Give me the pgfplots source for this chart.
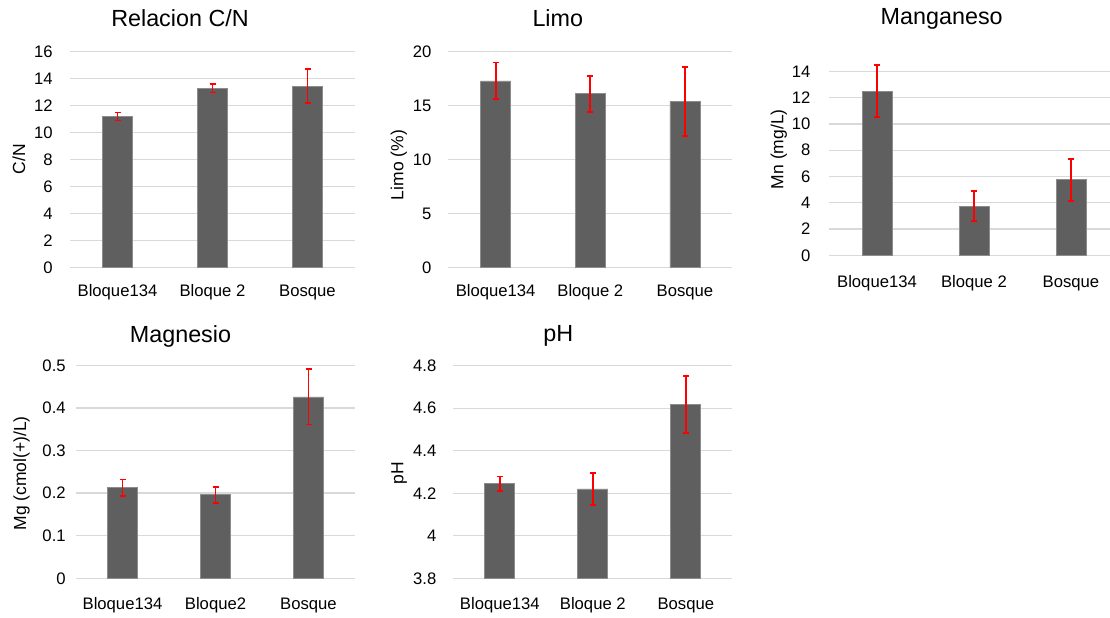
\documentclass[border=0pt]{standalone}
\usepackage{fontspec}
\setmainfont{Liberation Sans}
\usepackage{pgfplots}
\pgfplotsset{compat=1.18}
\definecolor{gridc}{HTML}{D9D9D9}
\definecolor{barc}{HTML}{5F5F5F}
\definecolor{bare}{HTML}{8C8C8C}
\pgfplotsset{
 panel/.style={
  scale only axis, ybar, bar width=18pt,
  xmin=-0.5, xmax=2.5, xtick={0,1,2},
  axis line style={draw=none}, tick style={draw=none},
  ymajorgrids, grid style={draw=gridc, line width=0.8pt},
  /pgf/number format/assume math mode=true,
  tick label style={font=\fontsize{10}{12}\selectfont, text=black},
  xticklabel style={anchor=base, inner sep=0pt},
  yticklabel style={anchor=east, inner sep=0pt},
  clip=false,
 },
 ebar/.style={fill=barc, draw=bare, line width=0.4pt,
  error bars/.cd, y dir=both, y explicit,
  error bar style={draw=red, color=red, line width=1.1pt},
  error mark options={rotate=90, mark size=1.8pt, draw=red, color=red, line width=1.1pt}},
}
\begin{document}
\begin{tikzpicture}
\useasboundingbox (0,0) rectangle (666pt,-370.2pt);

% Relacion C/N
\begin{axis}[panel, at={(42pt,-160.62pt)}, anchor=south west,
  width=171pt, height=129.6pt, ymin=0, ymax=16, ytick={0,2,...,16},
  xticklabels={Bloque134,Bloque 2,Bosque},
  xticklabel style={yshift=-12.9pt}, yticklabel style={xshift=-10.2pt}]
\addplot[ebar] table[x=x, y=y, y error=e] {
x y e
0 11.2 0.3
1 13.28 0.3
2 13.45 1.25
};
\end{axis}

% Limo
\begin{axis}[panel, at={(268.98pt,-160.62pt)}, anchor=south west,
  width=170.4pt, height=129.6pt, ymin=0, ymax=20, ytick={0,5,...,20},
  xticklabels={Bloque134,Bloque 2,Bosque},
  xticklabel style={yshift=-12.9pt}, yticklabel style={xshift=-10pt}]
\addplot[ebar] table[x=x, y=y, y error=e] {
x y e
0 17.3 1.7
1 16.1 1.65
2 15.4 3.2
};
\end{axis}

% Manganeso
\begin{axis}[panel, at={(497.1pt,-153.18pt)}, anchor=south west,
  width=174.6pt, height=110.4pt, ymin=0, ymax=14, ytick={0,2,...,14},
  xticklabels={Bloque134,Bloque 2,Bosque},
  xticklabel style={yshift=-14.9pt}, yticklabel style={xshift=-10.6pt}]
\addplot[ebar] table[x=x, y=y, y error=e] {
x y e
0 12.5 1.95
1 3.75 1.17
2 5.75 1.6
};
\end{axis}

% Magnesio
\begin{axis}[panel, at={(45.6pt,-346.98pt)}, anchor=south west,
  width=167.4pt, height=127.8pt, ymin=0, ymax=0.5, ytick={0,0.1,0.2,0.3,0.4,0.5},
  xticklabels={Bloque134,Bloque2,Bosque},
  xticklabel style={yshift=-14.5pt}, yticklabel style={xshift=-6pt}]
\addplot[ebar] table[x=x, y=y, y error=e] {
x y e
0 0.213 0.019
1 0.196 0.019
2 0.426 0.065
};
\end{axis}

% pH
\begin{axis}[panel, clip=true, at={(271.98pt,-346.98pt)}, anchor=south west,
  width=167.4pt, height=127.6pt, ymin=3.8, ymax=4.8, ytick={3.8,4,4.2,4.4,4.6,4.8},
  xticklabels={Bloque134,Bloque 2,Bosque},
  xticklabel style={yshift=-14.5pt}, yticklabel style={xshift=-10pt}]
\addplot[ebar] table[x=x, y=y, y error=e] {
x y e
0 4.245 0.034
1 4.22 0.075
2 4.617 0.133
};
\end{axis}

% titles
\begin{scope}[every node/.style={font=\fontsize{14}{16}\selectfont, anchor=base, inner sep=0pt}]
\node at (108pt,-16.02pt) {Relacion C/N};
\node at (334.68pt,-16.02pt) {Limo};
\node at (565.02pt,-14.58pt) {Manganeso};
\node at (108.3pt,-205.38pt) {Magnesio};
\node at (334.98pt,-205.02pt) {pH};
\end{scope}
% y labels
\begin{scope}[every node/.style={font=\fontsize{10.5}{12}\selectfont, anchor=base, rotate=90, inner sep=0pt}]
\node at (15pt,-95.4pt) {C/N};
\node at (241.98pt,-99pt) {Limo (\%)};
\node at (469.98pt,-89.52pt) {Mn (mg/L)};
\node at (15.6pt,-283.98pt) {Mg (cmol(+)/L)};
\node at (241.98pt,-283.98pt) {pH};
\end{scope}
\end{tikzpicture}
\end{document}
